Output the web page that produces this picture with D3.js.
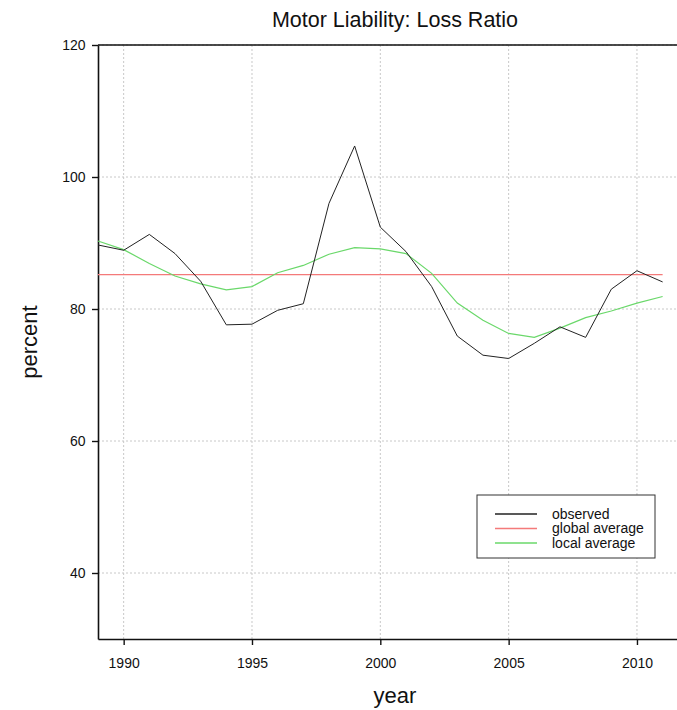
<!DOCTYPE html>
<html>
<head>
<meta charset="utf-8">
<script src="https://cdn.jsdelivr.net/npm/d3@7"></script>
<style>
body{margin:0;background:#fff;}
text{font-family:"Liberation Sans",Arial,sans-serif;fill:#111;}
</style>
</head>
<body>
<div id="chart"></div>
<script>
const years=d3.range(1989,2012);
const observed=[89.7,88.9,91.3,88.4,84.2,77.6,77.7,79.8,80.8,96.0,104.7,92.4,88.7,83.4,75.9,73.0,72.5,74.8,77.3,75.7,83.0,85.8,84.1];
const localAvg=[90.3,89.0,86.9,85.0,83.8,82.9,83.4,85.5,86.6,88.3,89.3,89.1,88.4,85.4,80.9,78.3,76.3,75.7,77.1,78.7,79.7,80.9,81.9];
const globalAvg=85.2;
const xTicks=[1990,1995,2000,2005,2010];
const yTicks=[40,60,80,100,120];
const legendItems=[
    {name:"observed",color:"#222"},
    {name:"global average",color:"#f47a7a"},
    {name:"local average",color:"#6ad86a"}
];

const width=677,height=710;
const margin={top:45,left:98,bottom:639};

const svg=d3.select("#chart").append("svg")
    .attr("width",width)
    .attr("height",height);

const x=d3.scaleLinear().domain([1989,2011.56]).range([margin.left,width]);
const y=d3.scaleLinear().domain([30,120]).range([margin.bottom,margin.top]);

// grid
svg.append("g")
    .selectAll("line")
    .data(xTicks)
    .join("line")
    .attr("x1",d=>x(d)).attr("x2",d=>x(d))
    .attr("y1",margin.top).attr("y2",margin.bottom)
    .attr("stroke","#c8c8c8")
    .attr("stroke-dasharray","2,2");
svg.append("g")
    .selectAll("line")
    .data(yTicks)
    .join("line")
    .attr("x1",margin.left).attr("x2",width)
    .attr("y1",d=>y(d)).attr("y2",d=>y(d))
    .attr("stroke","#c8c8c8")
    .attr("stroke-dasharray","2,2");

// axes
const xAxis=svg.append("g")
    .attr("transform",`translate(0,${margin.bottom})`)
    .call(d3.axisBottom(x).tickValues(xTicks).tickFormat(d3.format("d")).tickSize(6).tickSizeOuter(0));
xAxis.select(".domain").attr("stroke","#111").attr("stroke-width",1.6);
xAxis.selectAll(".tick line").attr("stroke","#111").attr("stroke-width",1.4);
xAxis.selectAll("text").attr("font-size",14).attr("dy","1.45em");

const yAxis=svg.append("g")
    .attr("transform",`translate(${margin.left},0)`)
    .call(d3.axisLeft(y).tickValues(yTicks).tickSize(6).tickSizeOuter(0));
yAxis.select(".domain").attr("stroke","#111").attr("stroke-width",1.6);
yAxis.selectAll(".tick line").attr("stroke","#111").attr("stroke-width",1.4);
yAxis.selectAll("text").attr("font-size",14).attr("dx","-0.25em");

// top border
svg.append("line")
    .attr("x1",margin.left).attr("x2",width)
    .attr("y1",margin.top).attr("y2",margin.top)
    .attr("stroke","#111").attr("stroke-width",1.6);

// global average
svg.append("line")
    .attr("x1",x(1989)).attr("x2",x(2011))
    .attr("y1",y(globalAvg)).attr("y2",y(globalAvg))
    .attr("stroke","#f47a7a").attr("stroke-width",1.3);

const line=d3.line().x((d,i)=>x(years[i])).y(d=>y(d));

svg.append("path")
    .datum(localAvg)
    .attr("d",line)
    .attr("fill","none")
    .attr("stroke","#6ad86a")
    .attr("stroke-width",1.2);

svg.append("path")
    .datum(observed)
    .attr("d",line)
    .attr("fill","none")
    .attr("stroke","#222")
    .attr("stroke-width",1);

// titles
svg.append("text")
    .attr("x",395).attr("y",27)
    .attr("text-anchor","middle")
    .attr("font-size",21.5)
    .text("Motor Liability: Loss Ratio");
svg.append("text")
    .attr("x",395).attr("y",703)
    .attr("text-anchor","middle")
    .attr("font-size",22)
    .text("year");
svg.append("text")
    .attr("transform","translate(37,342) rotate(-90)")
    .attr("text-anchor","middle")
    .attr("font-size",22)
    .text("percent");

// legend
const legend=svg.append("g").attr("transform","translate(477,495)");
legend.append("rect")
    .attr("width",178).attr("height",63)
    .attr("fill","#fff")
    .attr("stroke","#333").attr("stroke-width",1);
legend.selectAll("line")
    .data(legendItems)
    .join("line")
    .attr("x1",18).attr("x2",60)
    .attr("y1",(d,i)=>19+i*14.5).attr("y2",(d,i)=>19+i*14.5)
    .attr("stroke",d=>d.color)
    .attr("stroke-width",1.3);
legend.selectAll("text")
    .data(legendItems)
    .join("text")
    .attr("x",75)
    .attr("y",(d,i)=>19+i*14.5)
    .attr("dy","0.35em")
    .attr("font-size",14)
    .text(d=>d.name);
</script>
</body>
</html>
